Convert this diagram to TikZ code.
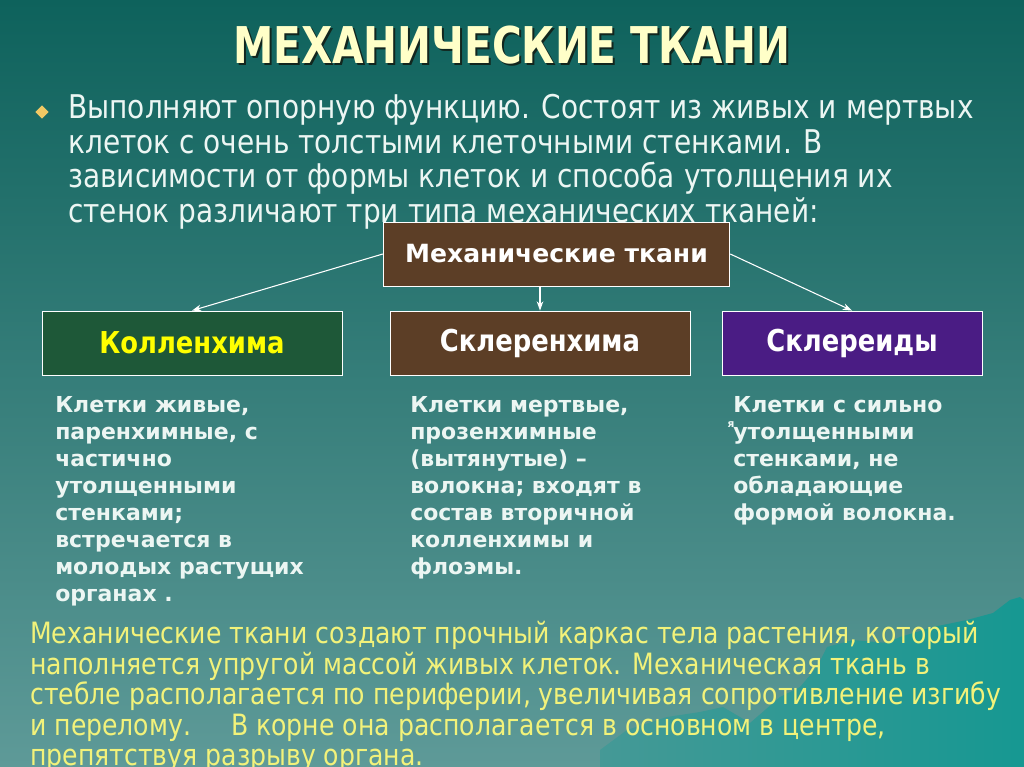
\documentclass[tikz,border=0pt]{standalone}
\usepackage{fontspec}
\usepackage{xcolor}
\usepackage{tikz}
\usetikzlibrary{positioning,arrows.meta,shapes.geometric}
\setmainfont{DejaVu Sans}
\newfontfamily\narrowfont{DejaVu Sans}[FakeStretch=0.857]
\newfontfamily\titlefont{DejaVu Sans}[FakeStretch=0.8]
\definecolor{bgTop}{RGB}{14, 98, 92}
\definecolor{bgBottom}{RGB}{94, 154, 152}
\definecolor{titleColor}{RGB}{255, 255, 200}
\definecolor{shadowColor}{RGB}{18, 38, 30}
\definecolor{bodyColor}{RGB}{236, 246, 243}
\definecolor{noteColor}{RGB}{242, 242, 122}
\definecolor{bulletColor}{RGB}{240, 200, 100}
\definecolor{brownBox}{RGB}{92, 62, 38}
\definecolor{greenBox}{RGB}{30, 88, 56}
\definecolor{purpleBox}{RGB}{74, 28, 132}
\definecolor{labelYellow}{RGB}{255, 255, 0}
\definecolor{mountColor}{RGB}{22, 152, 146}
\tikzset{
    tissuebox/.style={draw=white, line width=0.6pt, minimum height=48pt, inner sep=0pt},
    columntext/.style={anchor=north west, inner sep=0pt, align=left, text=bodyColor,
        font=\fontsize{16.5}{20.25}\selectfont\bfseries},
    arrowline/.style={draw=white, line width=0.8pt, -{Stealth[length=7pt,width=5pt]}}
}

\begin{document}
\begin{tikzpicture}[x=0.75pt, y=-0.75pt]
            % Background
            \shade[top color=bgTop, bottom color=bgBottom] (0,0) rectangle (1024,767);
            \useasboundingbox (0,0) rectangle (1024,767);
            \shade[left color=mountColor!35!bgBottom, right color=mountColor]
                (600,767) -- (600,750) -- (627,730) -- (667,717) -- (700,712) -- (723,707)
                -- (750,723) -- (780,697) -- (800,687) -- (817,667) -- (827,647) -- (853,640)
                -- (887,643) -- (900,637) -- (933,627) -- (967,620) -- (993,613) -- (1010,600)
                -- (1020,597) -- (1024,600) -- (1024,767) -- cycle;

            % Title text
            \node[text=shadowColor, font=\titlefont\fontsize{38}{40}\selectfont\bfseries] (titleshadow) at (514,47) {МЕХАНИЧЕСКИЕ ТКАНИ};
            \node[text=titleColor, font=\titlefont\fontsize{38}{40}\selectfont\bfseries] (title) at (512,45) {МЕХАНИЧЕСКИЕ ТКАНИ};

            % Intro text with bullet
            \node[diamond, fill=bulletColor, inner sep=0pt, minimum size=10pt] (bullet) at (42,112) {};
            \node[anchor=north west, inner sep=0pt, align=left, text=bodyColor,
                font=\narrowfont\fontsize{24.5}{25.9}\selectfont] (intro) at (68,94) {
                Выполняют опорную функцию. Состоят из живых и мертвых\\
                клеток с очень толстыми клеточными стенками. В\\
                зависимости от формы клеток и способа утолщения их\\
                стенок различают три типа механических тканей:};

            % Boxes
            \node[tissuebox, fill=brownBox, minimum width=260pt, text=white,
                font=\fontsize{18.8}{20}\selectfont\bfseries] (tkani) at (556.5,254) {Механические ткани};
            \node[tissuebox, fill=greenBox, minimum width=225pt, text=labelYellow,
                font=\narrowfont\fontsize{22.6}{24}\selectfont\bfseries] (kollenh) at (192,343) {Колленхима};
            \node[tissuebox, fill=brownBox, minimum width=225pt, text=white,
                font=\narrowfont\fontsize{22.6}{24}\selectfont\bfseries] (sklerenh) at (540,343) {Склеренхима};
            \node[tissuebox, fill=purpleBox, minimum width=195pt, text=white,
                font=\narrowfont\fontsize{22.6}{24}\selectfont\bfseries] (sklereid) at (852,343) {Склереиды};

            % Arrows
            \draw[arrowline] (tkani.west) -- (kollenh.north);
            \draw[arrowline] (tkani.south -| sklerenh.north) -- (sklerenh.north);
            \draw[arrowline] (tkani.east) -- (sklereid.north);

            % Column texts
            \node[columntext] (kollenhtext) at (55,396) {Клетки живые,\\паренхимные, с\\частично\\утолщенными\\стенками;\\встречается в\\молодых растущих\\органах .};
            \node[columntext] (sklerenhtext) at (410,396) {Клетки мертвые,\\прозенхимные\\(вытянутые) –\\волокна; входят в\\состав вторичной\\колленхимы и\\флоэмы.};
            \node[columntext] (sklereidtext) at (733,396) {Клетки с сильно\\утолщенными\\стенками, не\\обладающие\\формой волокна.};
            \node[text=bodyColor, font=\fontsize{8}{8}\selectfont\bfseries, inner sep=0pt] (stray) at (731,425) {я};

            % Closing text
            \node[anchor=north west, inner sep=0pt, align=left, text=noteColor,
                font=\narrowfont\fontsize{22}{22.9}\selectfont] (closing) at (30,621) {
                Механические ткани создают прочный каркас тела растения, который\\
                наполняется упругой массой живых клеток. Механическая ткань в\\
                стебле располагается по периферии, увеличивая сопротивление изгибу\\
                и перелому. \quad В корне она располагается в основном в центре,\\
                препятствуя разрыву органа.};
        \end{tikzpicture}
\end{document}
